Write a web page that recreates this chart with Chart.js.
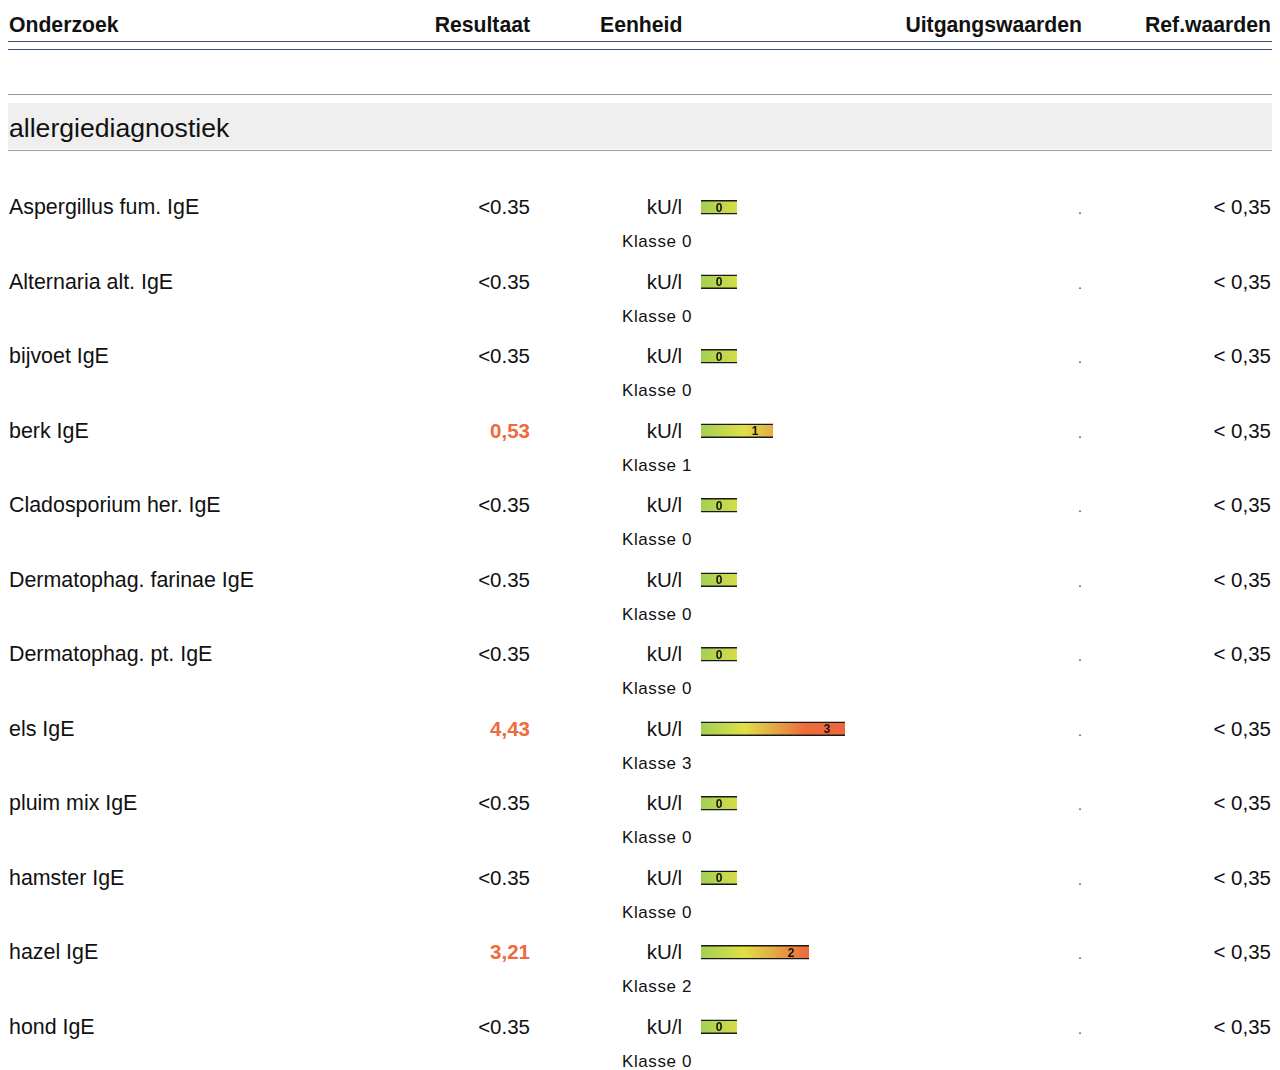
<!DOCTYPE html>
<html>
<head>
<meta charset="utf-8">
<script src="https://cdn.jsdelivr.net/npm/chart.js@4"></script>
<style>
    body { margin: 0; background: #fff; font-family: "Liberation Sans", Arial, sans-serif; color: #111; }
    #page { position: relative; width: 1280px; height: 1070px; overflow: hidden; }
    .t { position: absolute; height: 30px; line-height: 30px; white-space: nowrap; }
    .r { text-align: right; }
    .kop { font-weight: bold; font-size: 21.2px; }
    .naam { font-size: 21.4px; }
    .res { font-size: 20.5px; }
    .afw { color: #ef6a3c; font-weight: bold; }
    .klasse { font-size: 17px; letter-spacing: 0.6px; }
    .hline { position: absolute; left: 8px; width: 1264px; height: 1px; }
    #barWrap { position: absolute; left: 701px; top: 170px; width: 180px; height: 894px; }
</style>
</head>
<body>
<div id="page">
    <div id="rows"></div>
    <div id="barWrap"><canvas id="klasseChart"></canvas></div>
</div>
<script>
const onderzoek = ['Aspergillus fum. IgE', 'Alternaria alt. IgE', 'bijvoet IgE', 'berk IgE', 'Cladosporium her. IgE',
    'Dermatophag. farinae IgE', 'Dermatophag. pt. IgE', 'els IgE', 'pluim mix IgE', 'hamster IgE', 'hazel IgE', 'hond IgE'];
const resultaat = ['<0.35', '<0.35', '<0.35', '0,53', '<0.35', '<0.35', '<0.35', '4,43', '<0.35', '<0.35', '3,21', '<0.35'];
const afwijkend = [false, false, false, true, false, false, false, true, false, false, true, false];
const klassen = [0, 0, 0, 1, 0, 0, 0, 3, 0, 0, 2, 0];
const eenheid = 'kU/l';
const refwaarde = '< 0,35';
const kolommen = ['Onderzoek', 'Resultaat', 'Eenheid', 'Uitgangswaarden', 'Ref.waarden'];

const rowTop = 207;
const rowStep = 74.5;

function fillRows() {
    let html = `
        <div class="t kop" style="left:9px;top:10px">${kolommen[0]}</div>
        <div class="t kop r" style="right:750px;top:10px">${kolommen[1]}</div>
        <div class="t kop" style="left:600px;top:10px">${kolommen[2]}</div>
        <div class="t kop r" style="right:198px;top:10px">${kolommen[3]}</div>
        <div class="t kop r" style="right:9px;top:10px">${kolommen[4]}</div>
        <div class="hline" style="top:41px;background:#3b4a7c"></div>
        <div class="hline" style="top:49px;background:#3b4a7c"></div>
        <div class="hline" style="top:94px;background:#9a9a9a"></div>
        <div class="hline" style="top:103px;height:46px;background:#efefef"></div>
        <div class="hline" style="top:150px;background:#9a9a9a"></div>
        <div class="t" style="left:9px;top:113px;font-size:26.6px">allergiediagnostiek</div>
    `;
    onderzoek.forEach((naam, i) => {
        const cy = rowTop + i * rowStep;
        const cls = afwijkend[i] ? 'res afw' : 'res';
        html += `
            <div class="t naam" style="left:9px;top:${cy - 15}px">${naam}</div>
            <div class="t r ${cls}" style="right:750px;top:${cy - 15}px">${resultaat[i].replace('<', '&lt;')}</div>
            <div class="t res r" style="right:598px;top:${cy - 15}px">${eenheid}</div>
            <div class="t klasse" style="left:622px;top:${cy + 20}px">Klasse ${klassen[i]}</div>
            <div class="t res" style="left:1078px;top:${cy - 13}px;font-size:14px;color:#444">.</div>
            <div class="t res r" style="right:9px;top:${cy - 15}px">${refwaarde.replace('<', '&lt;')}</div>
        `;
    });
    document.getElementById('rows').innerHTML = html;
}

// klasse-nummer in het laatste blokje van de balk
const klasseLabels = {
    id: 'klasseLabels',
    afterDatasetsDraw(chart) {
        const ctx = chart.ctx;
        const x = chart.scales.x;
        const meta = chart.getDatasetMeta(0);
        ctx.save();
        ctx.font = 'bold 12px "Liberation Sans", Arial, sans-serif';
        ctx.fillStyle = '#111';
        ctx.textAlign = 'center';
        ctx.textBaseline = 'middle';
        meta.data.forEach((bar, i) => {
            ctx.fillText(String(klassen[i]), x.getPixelForValue(klassen[i] + 0.5), bar.y + 1);
        });
        ctx.restore();
    }
};

function generateKlasseChart() {
    const ctx = document.getElementById('klasseChart').getContext('2d');
    new Chart(ctx, {
        type: 'bar',
        data: {
            labels: onderzoek,
            datasets: [{
                data: klassen.map(k => k + 1),
                backgroundColor: function(c) {
                    const area = c.chart.chartArea;
                    if (!area) return '#dfe045';
                    const xs = c.chart.scales.x;
                    const g = c.chart.ctx.createLinearGradient(xs.getPixelForValue(0), 0, xs.getPixelForValue(4), 0);
                    g.addColorStop(0, '#a3cf55');
                    g.addColorStop(0.3, '#dfe046');
                    g.addColorStop(0.5, '#e5ab45');
                    g.addColorStop(0.72, '#ec6e3c');
                    g.addColorStop(1, '#ee653a');
                    return g;
                },
                borderColor: '#1a1a1a',
                borderWidth: { top: 1.5, bottom: 1.5, left: 0, right: 0 },
                borderSkipped: false,
                barThickness: 14
            }]
        },
        options: {
            indexAxis: 'y',
            responsive: true,
            maintainAspectRatio: false,
            animation: false,
            layout: { padding: 0 },
            scales: {
                x: { display: false, min: 0, max: 5 },
                y: { display: false }
            },
            plugins: {
                legend: { display: false },
                tooltip: { enabled: false }
            }
        },
        plugins: [klasseLabels]
    });
}

document.addEventListener('DOMContentLoaded', function() {
    fillRows();
    generateKlasseChart();
});
</script>
</body>
</html>
